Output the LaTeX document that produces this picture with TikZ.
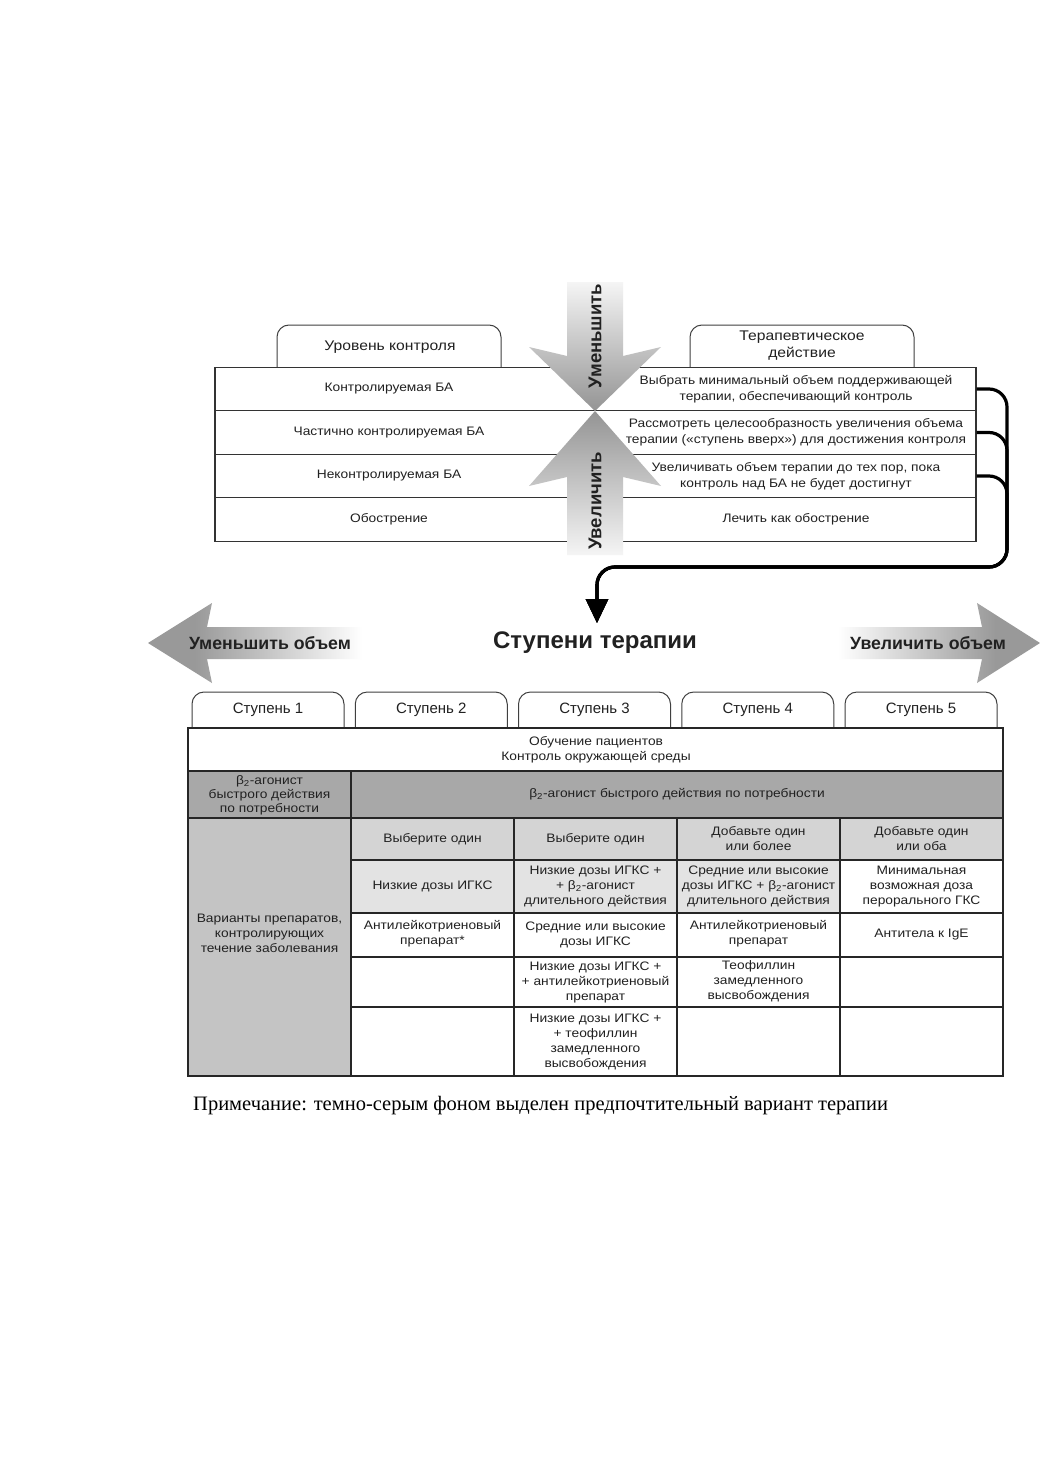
\documentclass[tikz,border=0pt]{standalone}
\usepackage{fontspec}
\setmainfont{Liberation Sans}[FakeStretch=1.12]
\newfontfamily\stepfont{Liberation Sans}
\newfontfamily\hbfont{Liberation Sans}
\newfontfamily\notefont{Liberation Serif}
\usetikzlibrary{arrows.meta}
\definecolor{dk}{gray}{0.66}
\definecolor{md}{gray}{0.77}
\definecolor{ch}{gray}{0.83}
\definecolor{lt}{gray}{0.89}
\definecolor{arrg}{gray}{0.6}
\definecolor{txtc}{gray}{0.13}
\pgfdeclarehorizontalshading{fadetoright}{100bp}{color(0bp)=(arrg); color(25bp)=(arrg); color(36bp)=(arrg); color(75bp)=(white); color(100bp)=(white)}
\pgfdeclarehorizontalshading{fadetoleft}{100bp}{color(0bp)=(white); color(25bp)=(white); color(64bp)=(arrg); color(75bp)=(arrg); color(100bp)=(arrg)}
\begin{document}
\begin{tikzpicture}[x=1pt,y=-1pt,
  txt/.style={text=txtc, align=center, inner sep=0pt, font=\fontsize{12.3}{16}\selectfont},
  celltxt/.style={text=txtc, align=center, inner sep=0pt, font=\fontsize{12.3}{15}\selectfont},
  rowbox/.style={draw=black!80, line width=1.1pt, minimum width=761pt, minimum height=43.5pt, inner sep=0pt},
  tabline/.style={draw=black!75, line width=1pt, rounded corners=12pt},
  conn/.style={line width=3.2pt, rounded corners=18pt, -{Triangle[width=22pt,length=24pt]}},
  gridline/.style={draw=black!85, line width=1.5pt},
  headtxt/.style={text=txtc, inner sep=0pt, font=\hbfont\bfseries\fontsize{17.7}{19}\selectfont},
  vtxt/.style={text=txtc, inner sep=0pt, rotate=90, font=\hbfont\bfseries\fontsize{18.5}{20}\selectfont},
  steptxt/.style={text=txtc, inner sep=0pt, font=\stepfont\fontsize{15}{17}\selectfont},
]
\useasboundingbox (0,0) rectangle (1040,1471);
\fill[white] (0,0) rectangle (1040,1471);

% ---------- top table ----------
\draw[tabline] (277,367) -- (277,325) -- (501,325) -- (501,367);
\draw[tabline] (690,367) -- (690,325) -- (914,325) -- (914,367);
\node[txt, font=\fontsize{14}{16}\selectfont] (tabL) at (390,347) {Уровень контроля};
\node[txt, font=\fontsize{14}{17}\selectfont] (tabR) at (802,346) {Терапевтическое\\действие};

\node[rowbox] (row1) at (595.5,389) {};
\node[rowbox] (row2) at (595.5,432.5) {};
\node[rowbox] (row3) at (595.5,476) {};
\node[rowbox] (row4) at (595.5,519.5) {};

\node[txt] (l1) at (389,389) {Контролируемая БА};
\node[txt] (l2) at (389,432.5) {Частично контролируемая БА};
\node[txt] (l3) at (389,476) {Неконтролируемая БА};
\node[txt] (l4) at (389,519.5) {Обострение};
\node[txt] (r1) at (796,389) {Выбрать минимальный объем поддерживающей\\терапии, обеспечивающий контроль};
\node[txt] (r2) at (796,432.5) {Рассмотреть целесообразность увеличения объема\\терапии («ступень вверх») для достижения контроля};
\node[txt] (r3) at (796,476) {Увеличивать объем терапии до тех пор, пока\\контроль над БА не будет достигнут};
\node[txt] (r4) at (796,519.5) {Лечить как обострение};

% vertical arrows
\shade[top color=gray!8, bottom color=black!42]
  (567,282) -- (567,356) -- (529,347) -- (595,411) -- (661,347) -- (623,356) -- (623,282) -- cycle;
\shade[top color=black!42, bottom color=gray!8]
  (567,555) -- (567,477) -- (529,486) -- (595,411) -- (661,486) -- (623,477) -- (623,555) -- cycle;
\node[vtxt] (dec) at (595,336) {Уменьшить};
\node[vtxt] (inc) at (595,501) {Увеличить};

% connectors
\coordinate (tgt) at (597,623);
\draw[conn] (row3.east) -- (1007,476) -- (1007,567) -- (597,567) -- (tgt);
\draw[conn] (row2.east) -- (1007,432.5) -- (1007,567) -- (597,567) -- (tgt);
\draw[conn] (row1.east) -- (1007,389) -- (1007,567) -- (597,567) -- (tgt);

% ---------- steps header ----------
\shade[shading=fadetoright]
  (148,643) -- (212,603) -- (207,627) -- (362,627) -- (362,659) -- (207,659) -- (212,683) -- cycle;
\shade[shading=fadetoleft]
  (1040,643) -- (977,603) -- (982,627) -- (838,627) -- (838,659) -- (982,659) -- (977,683) -- cycle;
\node[headtxt] (decv) at (270,643) {Уменьшить объем};
\node[headtxt] (incv) at (928,643) {Увеличить объем};
\node[headtxt, font=\hbfont\bfseries\fontsize{24}{26}\selectfont] (title) at (595,643) {Ступени терапии};

\foreach \i in {1,...,5}{
  \pgfmathsetmacro{\xa}{192+163.25*(\i-1)}
  \draw[tabline] (\xa,728) -- (\xa,692) -- (\xa+152,692) -- (\xa+152,728);
  \node[steptxt] (step\i) at (\xa+76,710) {Ступень \i};
}

% ---------- bottom table ----------
\fill[dk] (188,771) rectangle (1003,818);
\fill[md] (188,818) rectangle (351,1076);
\fill[ch] (351,818) rectangle (1003,860);
\fill[lt] (351,860) rectangle (840,913);
\draw[gridline] (188,771) -- (1003,771);
\draw[gridline] (188,818) -- (1003,818);
\draw[gridline] (351,860) -- (1003,860);
\draw[gridline] (351,913) -- (1003,913);
\draw[gridline] (351,957) -- (1003,957);
\draw[gridline] (351,1007) -- (1003,1007);
\draw[gridline] (351,771) -- (351,1076);
\draw[gridline] (514,818) -- (514,1076);
\draw[gridline] (677,818) -- (677,1076);
\draw[gridline] (840,818) -- (840,1076);
\draw[gridline, line width=1.9pt] (188,728) rectangle (1003,1076);

\node[celltxt] (edu) at (596,750) {Обучение пациентов\\Контроль окружающей среды};
\node[celltxt, font=\fontsize{12.3}{14}\selectfont] (b2l) at (269.5,795) {β\textsubscript{2}-агонист\\быстрого действия\\по потребности};
\node[celltxt] (b2r) at (677,794.5) {β\textsubscript{2}-агонист быстрого действия по потребности};
\node[celltxt] (var) at (269.5,933) {Варианты препаратов,\\контролирующих\\течение заболевания};

\node[celltxt] (c2a) at (432.5,839) {Выберите один};
\node[celltxt] (c2b) at (432.5,886.5) {Низкие дозы ИГКС};
\node[celltxt] (c2c) at (432.5,934) {Антилейкотриеновый\\препарат*};

\node[celltxt] (c3a) at (595.5,839) {Выберите один};
\node[celltxt] (c3b) at (595.5,886.5) {Низкие дозы ИГКС +\\+ β\textsubscript{2}-агонист\\длительного действия};
\node[celltxt] (c3c) at (595.5,935) {Средние или высокие\\дозы ИГКС};
\node[celltxt] (c3d) at (595.5,982) {Низкие дозы ИГКС +\\+ антилейкотриеновый\\препарат};
\node[celltxt] (c3e) at (595.5,1041.5) {Низкие дозы ИГКС +\\+ теофиллин\\замедленного\\высвобождения};

\node[celltxt] (c4a) at (758.5,839) {Добавьте один\\или более};
\node[celltxt] (c4b) at (758.5,886.5) {Средние или высокие\\дозы ИГКС + β\textsubscript{2}-агонист\\длительного действия};
\node[celltxt] (c4c) at (758.5,934) {Антилейкотриеновый\\препарат};
\node[celltxt] (c4d) at (758.5,981) {Теофиллин\\замедленного\\высвобождения};

\node[celltxt] (c5a) at (921.5,839) {Добавьте один\\или оба};
\node[celltxt] (c5b) at (921.5,886.5) {Минимальная\\возможная доза\\перорального ГКС};
\node[celltxt] (c5c) at (921.5,935) {Антитела к IgE};

\node[anchor=west, inner sep=0pt, text=black, font=\notefont\fontsize{20.5}{23}\selectfont] (note) at (193,1106) {Примечание: темно-серым фоном выделен предпочтительный вариант терапии};
\end{tikzpicture}
\end{document}
